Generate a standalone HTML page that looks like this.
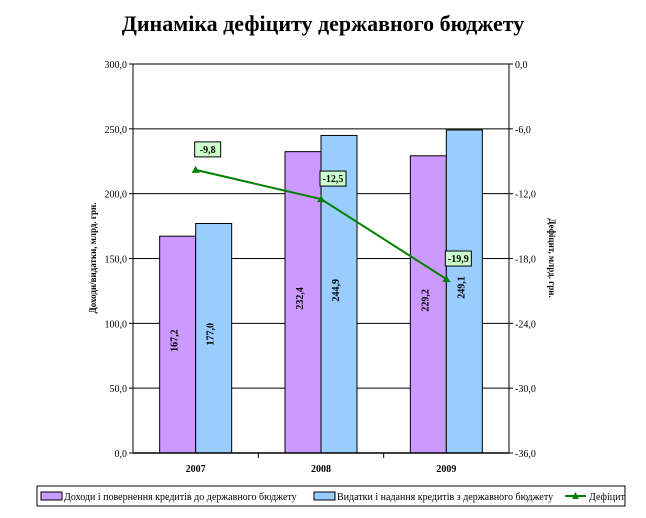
<!DOCTYPE html>
<html><head><meta charset="utf-8"><style>
body{margin:0;background:#fff;width:646px;height:513px;overflow:hidden}
text{font-family:"Liberation Serif",serif}
</style></head><body>
<svg id="c" width="646" height="513">
<text x="323" y="31" text-anchor="middle" font-size="22" font-weight="bold">Динаміка дефіциту державного бюджету</text>
<g id="plot"></g>
</svg>
<script>
const categories=["2007","2008","2009"];
const revenues=[167.2,232.4,229.2];
const expenses=[177.0,244.9,249.1];
const deficit=[-9.8,-12.5,-19.9];
const leftTicks=[0,50,100,150,200,250,300];
const rightTicks=[0,-6,-12,-18,-24,-30,-36];
const NS="http://www.w3.org/2000/svg";
const g=document.getElementById('plot');
const X0=133,X1=509,Y0=453,Y1=64;
const cw=(X1-X0)/categories.length;
const yL=v=>Y0-(v/300)*(Y0-Y1);
const yR=v=>Y1+(-v/36)*(Y0-Y1);
const cx=i=>X0+cw*(i+0.5);
function el(t,a,txt){const e=document.createElementNS(NS,t);for(const k in a)e.setAttribute(k,a[k]);if(txt!==undefined)e.textContent=txt;g.appendChild(e);return e;}
function fmt(v){return v.toFixed(1).replace('.',',');}
leftTicks.forEach(v=>{
 const gl=el('line',{x1:X0,x2:X1,y1:yL(v),y2:yL(v),stroke:'#000','stroke-width':1});
 
 el('line',{x1:X0-4,x2:X0,y1:yL(v),y2:yL(v),stroke:'#000'});
 const t=el('text',{x:X0-6,y:yL(v)+4,'text-anchor':'end','font-size':10},fmt(v));
 
});
rightTicks.forEach(v=>{
 el('line',{x1:X1,x2:X1+4,y1:yR(v),y2:yR(v),stroke:'#000'});
 const t=el('text',{x:X1+6,y:yR(v)+4,'font-size':10},fmt(v));
 
});
categories.forEach((c,i)=>{
 const bw=36;
 const r=el('rect',{x:cx(i)-bw,y:yL(revenues[i]),width:bw,height:Y0-yL(revenues[i]),fill:'#cc99ff',stroke:'#000','stroke-width':1});
 
 const b=el('rect',{x:cx(i),y:yL(expenses[i]),width:bw,height:Y0-yL(expenses[i]),fill:'#99ccff',stroke:'#000','stroke-width':1});
 
 [[revenues[i],cx(i)-bw/2],[expenses[i],cx(i)+bw/2]].forEach(([v,x])=>{
  const my=(yL(v)+Y0)/2;
  const t=el('text',{x:x+4,y:my,'font-size':10,'font-weight':'bold','text-anchor':'middle',transform:`rotate(-90 ${x} ${my})`},fmt(v));
  
 });
 const tl=el('text',{x:cx(i),y:Y0+19,'font-size':10,'font-weight':'bold','text-anchor':'middle'},c);
 
 if(i>0)el('line',{x1:X0+cw*i,x2:X0+cw*i,y1:Y0,y2:Y0+5,stroke:'#000'});
});
el('line',{x1:X0,x2:X0,y1:Y1,y2:Y0,stroke:'#000'});
el('line',{x1:X1,x2:X1,y1:Y1,y2:Y0,stroke:'#000'});
el('line',{x1:X0,x2:X1,y1:Y0,y2:Y0,stroke:'#000','stroke-width':1.5});
const pl=el('polyline',{points:deficit.map((v,i)=>cx(i)+','+yR(v)).join(' '),fill:'none',stroke:'#008000','stroke-width':2});

deficit.forEach((v,i)=>{
 const x=cx(i),y=yR(v);
 const m=el('polygon',{points:`${x},${y-4} ${x-4},${y+3} ${x+4},${y+3}`,fill:'#008000'});
 
 const bx=el('rect',{x:x-1,y:y-28,width:26,height:15,fill:'#ccffcc',stroke:'#000','stroke-width':1});
 
 const t=el('text',{x:x+12,y:y-17,'font-size':10,'font-weight':'bold','text-anchor':'middle'},fmt(v));
 
});
const ly=el('text',{x:96,y:258,'font-size':9,'font-weight':'bold','text-anchor':'middle',transform:'rotate(-90 96 258)'},'Доходи/видатки, млрд. грн.');

const ry=el('text',{x:549,y:258,'font-size':9,'font-weight':'bold','text-anchor':'middle',transform:'rotate(90 549 258)'},'Дефіцит, млрд. грн.');

const lg=el('rect',{x:37,y:486,width:588,height:20,fill:'#fff',stroke:'#000'});

const s1=el('rect',{x:41,y:492,width:21,height:8,fill:'#cc99ff',stroke:'#000'});

const t1=el('text',{x:64,y:500,'font-size':10},'Доходи і повернення кредитів до державного бюджету');

const s2=el('rect',{x:314,y:492,width:21,height:8,fill:'#99ccff',stroke:'#000'});

const t2=el('text',{x:337,y:500,'font-size':10},'Видатки і надання кредитів з державного бюджету');

el('line',{x1:565,x2:586,y1:496,y2:496,stroke:'#008000','stroke-width':2});
el('polygon',{points:'575.5,492 572,499 579,499',fill:'#008000'});
const t3=el('text',{x:589,y:500,'font-size':10},'Дефіцит');

</script>
</body></html>
